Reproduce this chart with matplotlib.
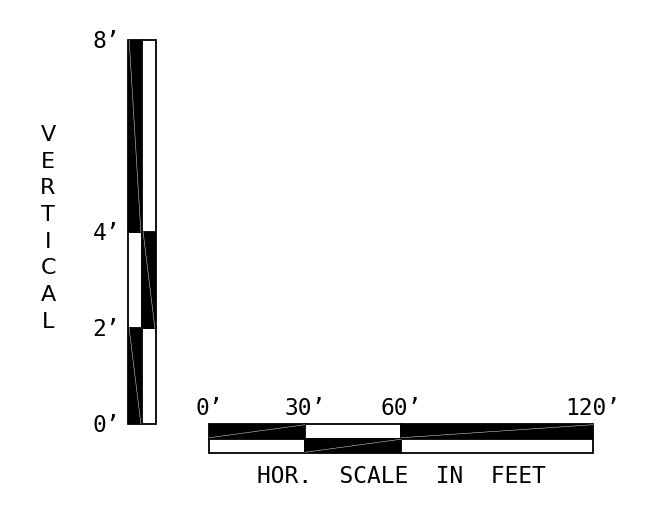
import matplotlib
matplotlib.use('Agg')
import matplotlib.pyplot as plt

# vertical scale (feet)
v_edges = [0, 2, 4, 8]
v_left_colors = ['black', 'white', 'black']
v_right_colors = ['white', 'black', 'white']
v_tick_labels = ['0\u2019', '2\u2019', '4\u2019', '8\u2019']
v_title = 'VERTICAL'

# horizontal scale (feet)
h_edges = [0, 30, 60, 120]
h_top_colors = ['black', 'white', 'black']
h_bottom_colors = ['white', 'black', 'white']
h_tick_labels = ['0\u2019', '30\u2019', '60\u2019', '120\u2019']
h_title = 'HOR.  SCALE  IN  FEET'

W, H = 654, 508
plt.rcParams['font.family'] = ['DejaVu Sans Mono', 'DejaVu Sans']
FS = 16.5

fig = plt.figure(figsize=(W / 100, H / 100), dpi=100, facecolor='white')

# vertical bar
ax_v = fig.add_axes([128 / W, (H - 424) / H, 28 / W, 384 / H])
ax_v.set_xlim(0, 2)
ax_v.set_ylim(0, 8)
ax_v.axis('off')
for col, colors in enumerate([v_left_colors, v_right_colors]):
    for i, c in enumerate(colors):
        y0, y1 = v_edges[i], v_edges[i + 1]
        ax_v.bar(col + 0.5, y1 - y0, bottom=y0, width=1, color=c,
                 edgecolor='black', linewidth=1.3, clip_on=False)
        if c == 'black':
            ax_v.plot([col + 0.08, col + 0.92], [y1, y0], color='white',
                      lw=0.4, alpha=0.8, clip_on=False)
for y, lbl in zip(v_edges, v_tick_labels):
    ax_v.annotate(lbl, (0, y), xytext=(-8, -1), textcoords='offset pixels',
                  ha='right', va='center', fontsize=FS)

# stacked "VERTICAL" label
for i, ch in enumerate(v_title):
    fig.text(48 / W, 1 - (135 + i * 26.7) / H, ch, ha='center', va='center',
             fontsize=16, family='DejaVu Sans')

# horizontal bar
ax_h = fig.add_axes([209 / W, (H - 453) / H, 384 / W, 29 / H])
ax_h.set_xlim(0, 120)
ax_h.set_ylim(0, 2)
ax_h.axis('off')
for row, colors in zip([1, 0], [h_top_colors, h_bottom_colors]):
    for i, c in enumerate(colors):
        x0, x1 = h_edges[i], h_edges[i + 1]
        ax_h.barh(row + 0.5, x1 - x0, left=x0, height=1, color=c,
                  edgecolor='black', linewidth=1.3, clip_on=False)
        if c == 'black':
            ax_h.plot([x0, x1], [row + 0.05, row + 0.95], color='white',
                      lw=0.4, alpha=0.8, clip_on=False)
for x, lbl in zip(h_edges, h_tick_labels):
    ax_h.annotate(lbl, (x, 2), xytext=(0, 9), textcoords='offset pixels',
                  ha='center', va='baseline', fontsize=FS)
ax_h.annotate(h_title, (60, 0), xytext=(0, -30), textcoords='offset pixels',
              ha='center', va='baseline', fontsize=FS)

fig.savefig('out.png', dpi=100, facecolor='white')
